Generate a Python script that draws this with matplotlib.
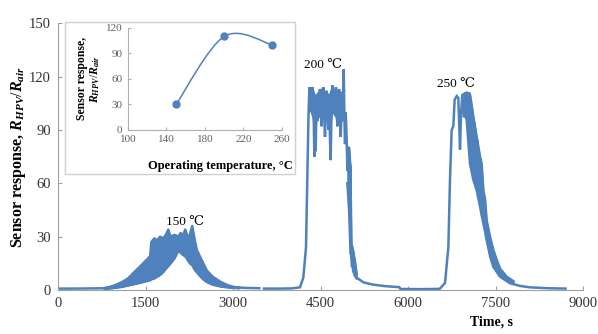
import matplotlib
matplotlib.use('Agg')
import matplotlib.pyplot as plt
import matplotlib.patches as patches
from matplotlib.path import Path
import numpy as np

plt.rcParams['font.family'] = ['Liberation Serif', 'DejaVu Serif']
plt.rcParams['mathtext.fontset'] = 'custom'
plt.rcParams['mathtext.rm'] = 'Liberation Serif'
plt.rcParams['mathtext.it'] = 'Liberation Serif:italic:bold'
plt.rcParams['mathtext.bf'] = 'Liberation Serif:bold'

BLUE = '#4f81bd'
nan = np.nan

# main trace: time (s) and sensor response
time_s = [0, 300, 600, 800, 1000, 1200, 1400, 1520, 1600, 1700, 1800, 1890, 1950,
          2060, 2180, 2250, 2300, 2380, 2490, 2650, 2780, 2900, 3000, 3200, 3450,
          nan,
          3530, 3800, 4000, 4148, 4205, 4251, 4280, 4295, 4309, 4322, 4335, 4349,
          4363, 4377, 4385, 4394, 4405, 4417, 4430, 4445, 4463, 4477, 4491, 4505,
          4520, 4534, 4548, 4562, 4577, 4591, 4606, 4620, 4634, 4650, 4662, 4674,
          4688, 4703, 4720, 4737, 4750, 4765, 4777, 4788, 4802, 4817, 4832, 4846,
          4860, 4874, 4885, 4897, 4908, 4920, 4930, 4937, 4948, 4960, 4977, 4994,
          5011, 5020, 5028, 5040, 5050, 5062, 5075, 5091, 5120, 5234, 5405, 5600,
          5850, 5870, 6200,
          6500, 6548, 6634, 6691, 6719, 6748, 6776, 6799, 6834, 6862, 6891, 6908,
          6931, 6959, 6988, 7017, 7045, 7062, 7091, 7119, 7142, 7165, 7188, 7211,
          7234, 7257, 7279, 7302, 7325, 7348, 7377, 7405, 7462, 7577, 7748, 7920,
          8090, 8400, 8700]
response = [0.8, 0.8, 0.9, 1.0, 2.4, 4.5, 8, 11, 17, 18, 20, 30, 22,
            27, 30, 22, 34, 16, 10, 5, 3.2, 2.2, 1.6, 1.2, 1.0,
            nan,
            0.8, 0.8, 0.9, 1.5, 7, 24, 73, 100, 114, 100, 114, 108,
            114, 110, 95, 75, 100, 78, 105, 95, 110, 100, 113, 104,
            92, 110, 114, 100, 86, 108, 112, 100, 90, 105, 85, 73,
            100, 115, 105, 99, 110, 114, 100, 92, 108, 113, 100, 86,
            100, 103, 95, 124, 100, 82, 100, 95, 85, 67, 80, 48,
            70, 20, 24, 13, 22, 10, 16, 8, 7, 4.3, 3, 2.2,
            1.6, 0.6, 0.5,
            0.6, 0.8, 4, 24, 62, 90, 92, 107, 109, 108, 79, 99,
            110, 97, 111, 96, 111, 81, 101, 71, 94, 62, 84, 56,
            71, 47, 58, 39, 43, 30, 24, 19, 13, 7.5, 3.8, 2.3,
            1.5, 1.0, 0.8]

# dense oscillation bands (lower / upper envelope)
band1_t = [800, 900, 1000, 1100, 1200, 1290, 1400, 1520, 1580, 1600, 1650, 1700,
           1750, 1800, 1850, 1890, 1930, 2000, 2060, 2100, 2150, 2180, 2220, 2260,
           2300, 2350, 2380, 2430, 2490, 2550, 2650, 2780, 2900, 3000, 3100]
band1_lo = [0.6, 0.9, 1.3, 1.8, 2.5, 3.2, 4.0, 5.0, 5.5, 6.0, 6.5, 7.5,
            8.5, 10, 12, 13.5, 15, 18, 22, 21, 19.5, 19, 17, 15,
            14, 11, 10, 8, 6, 4.5, 3, 2, 1.5, 1.2, 1.0]
band1_hi = [1.1, 1.8, 3.0, 4.5, 6.5, 9.5, 13, 17, 19, 27, 29, 28,
            30, 29, 31, 34, 30, 31, 30, 32, 31, 34, 30, 31,
            36, 27, 22.5, 19, 15, 11, 7.5, 4.7, 2.8, 1.8, 1.3]

band2a_t = [4309, 4350, 4380, 4410, 4450, 4500, 4540, 4580, 4620, 4660, 4700,
            4740, 4780, 4820, 4860, 4900]
band2a_lo = [104, 100, 97, 92, 99, 97, 101, 95, 98, 92, 101, 99, 97, 99, 95, 97]
band2a_hi = [112, 113, 111, 108, 110, 112, 113, 111, 110, 109, 113, 112, 111, 112, 110, 112]

band2_t = [4960, 4990, 5011, 5030, 5060, 5090, 5120]
band2_lo = [60, 45, 25, 18, 11, 8, 6.5]
band2_hi = [80, 80, 70, 26, 22, 16, 9]

band3_t = [6948, 7005, 7062, 7119, 7177, 7234, 7262, 7291, 7320, 7348, 7405,
           7462, 7520, 7577, 7690, 7805]
band3_lo = [100, 96, 71, 62, 56, 47, 42, 37.5, 33, 28, 20.6, 15, 11, 8.4, 5.5, 4]
band3_hi = [110, 111, 110, 97.5, 86, 75, 71, 56, 51, 39, 30, 22.5, 17, 12, 7.5, 5]

# inset: response vs operating temperature
temp_c = [150, 200, 250]
temp_resp = [30, 110, 100]

peak_labels = ['150 \u2103', '200 \u2103', '250 \u2103']
peak_label_t = [2180, 4540, 6823]
peak_label_v = [38, 126.5, 116]

fig = plt.figure(figsize=(5.98, 3.34), dpi=100)
ax = fig.add_axes([0.097, 0.1317, 0.878, 0.799])

ax.plot(time_s, response, color=BLUE, lw=1.8, solid_joinstyle='miter')
for bt, lo, hi in [(band1_t, band1_lo, band1_hi), (band2a_t, band2a_lo, band2a_hi),
                   (band2_t, band2_lo, band2_hi), (band3_t, band3_lo, band3_hi)]:
    ax.fill_between(bt, lo, hi, facecolor=BLUE, edgecolor=BLUE, lw=0.6)
    ax.plot(bt, lo, color=BLUE, lw=1.8)
    ax.plot(bt, hi, color=BLUE, lw=1.8)

ax.set_xlim(0, 9000)
ax.set_ylim(0, 150)
ax.set_xticks([0, 1500, 3000, 4500, 6000, 7500, 9000])
ax.set_yticks([0, 30, 60, 90, 120, 150])
for s in ['top', 'right']:
    ax.spines[s].set_visible(False)
for s in ['left', 'bottom']:
    ax.spines[s].set_color('#a0a0a0')
ax.tick_params(direction='in', length=3, color='#a0a0a0', labelsize=10.5,
               labelcolor='#333333', pad=5)
ax.set_ylabel('Sensor response, $R_{HPV}/R_{air}$', fontsize=11.5,
              fontweight='bold')
ax.yaxis.set_label_coords(-0.058, 0.5)

for txt, tx, ty in zip(peak_labels, peak_label_t, peak_label_v):
    ax.text(tx, ty, txt, ha='center', va='center', fontsize=9.5)

fig.text(491 / 598, 1 - 322 / 334, 'Time, s', ha='center', va='center',
         fontsize=10, fontweight='bold')

# inset frame
frame = patches.Rectangle((0.1087, 0.479), 0.3846, 0.455, transform=fig.transFigure,
                          facecolor='white', edgecolor='#d0d0d0', lw=1, zorder=3)
fig.patches.append(frame)

ins = fig.add_axes([0.214, 0.611, 0.2575, 0.3054], zorder=4)
ins.patch.set_alpha(0)
# Excel-style smoothed line drawn as cubic Bezier through the points
pts = list(zip(temp_c, temp_resp))
verts = [pts[0]]
codes = [Path.MOVETO]
for i in range(len(pts) - 1):
    p0 = np.array(pts[max(i - 1, 0)])
    p1 = np.array(pts[i])
    p2 = np.array(pts[i + 1])
    p3 = np.array(pts[min(i + 2, len(pts) - 1)])
    verts += [tuple(p1 + (p2 - p0) / 6), tuple(p2 - (p3 - p1) / 6), tuple(p2)]
    codes += [Path.CURVE4] * 3
ins.add_patch(patches.PathPatch(Path(verts, codes), facecolor='none',
                                edgecolor=BLUE, lw=1.1))
ins.plot(temp_c, temp_resp, 'o', color=BLUE, ms=5)
ins.set_xlim(100, 260)
ins.set_ylim(0, 120)
ins.set_xticks([100, 140, 180, 220, 260])
ins.set_yticks([0, 30, 60, 90, 120])
for s in ['top', 'right']:
    ins.spines[s].set_visible(False)
for s in ['left', 'bottom']:
    ins.spines[s].set_color('#b0b0b0')
ins.tick_params(direction='in', length=2.5, color='#b0b0b0', labelsize=8,
                labelcolor='#606060', pad=4)
ins.set_ylabel('Sensor response,\n$R_{HPV}/R_{air}$', fontsize=8.5,
               fontweight='bold', labelpad=3, linespacing=1.0)
fig.text(293 / 598, 1 - 166 / 334, 'Operating temperature, \u00b0C', ha='right',
         va='center', fontsize=9, fontweight='bold', zorder=5)

fig.savefig('out.png', dpi=100)
